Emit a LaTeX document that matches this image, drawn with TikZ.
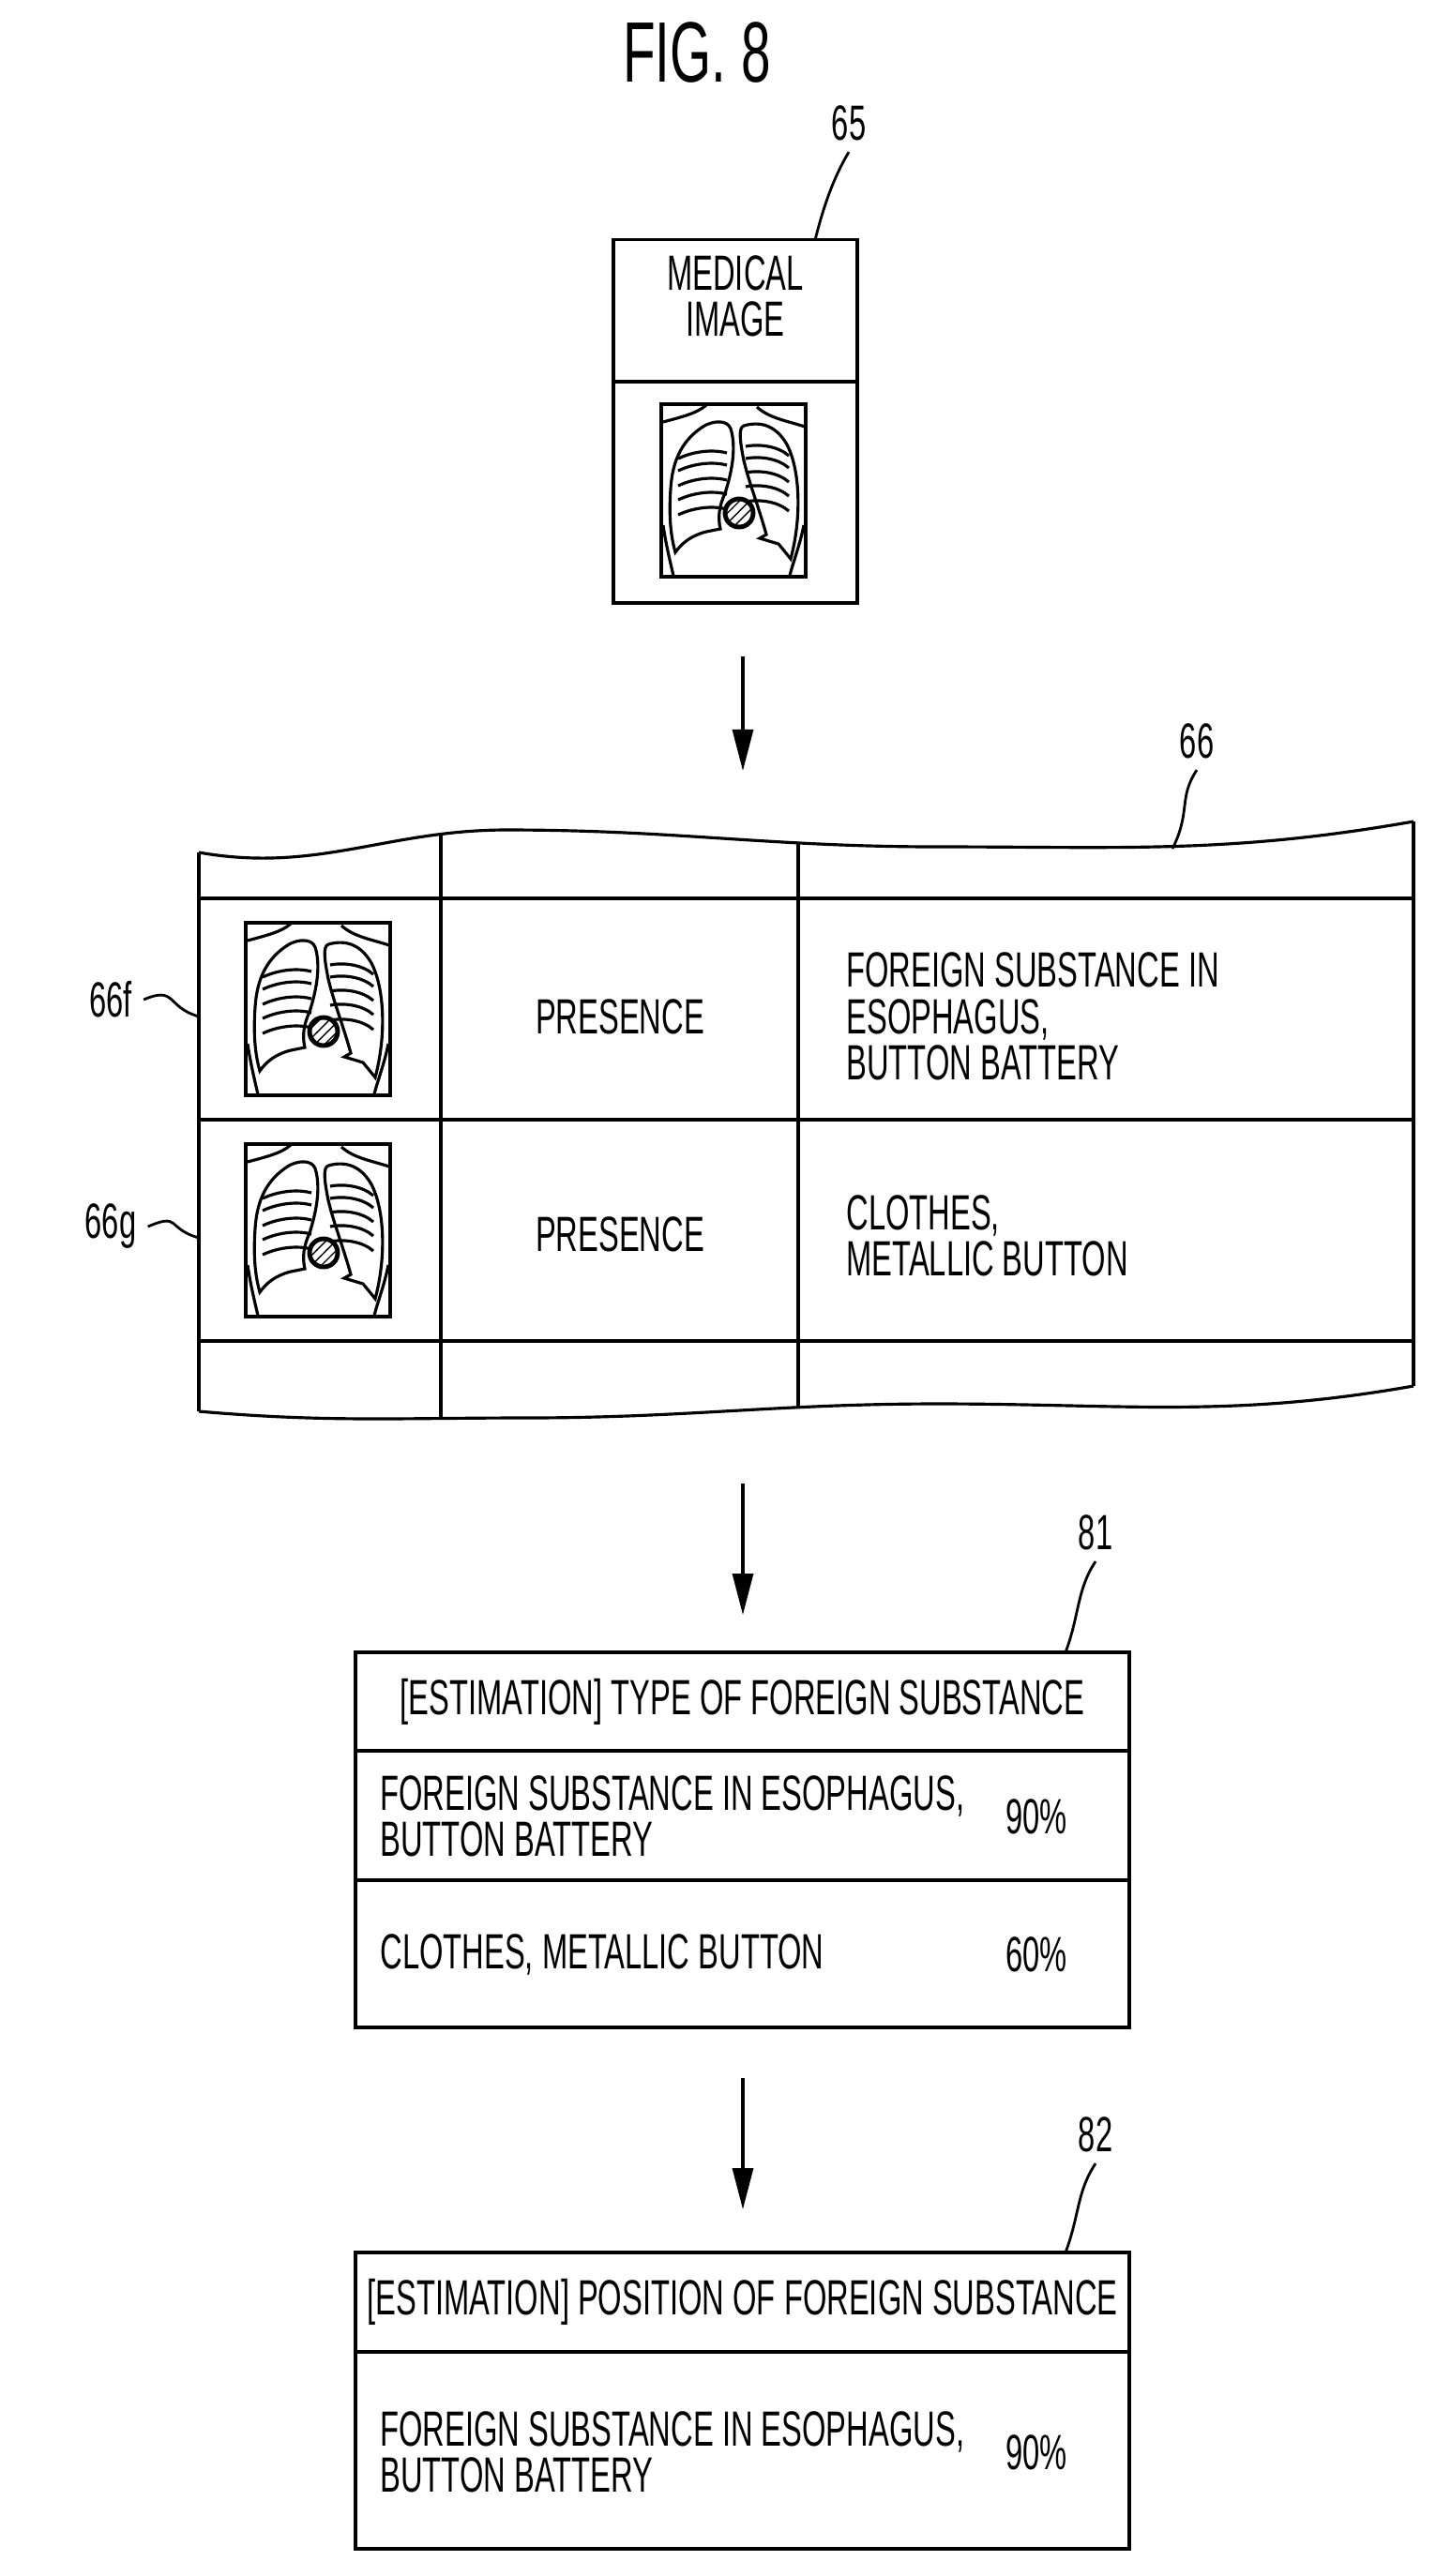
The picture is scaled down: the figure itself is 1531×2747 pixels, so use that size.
\documentclass[tikz,border=0pt]{standalone}
\usepackage{fontspec}
\setmainfont{Liberation Sans}[FakeStretch=0.62]
\usetikzlibrary{arrows.meta,patterns}
\tikzset{
  every node/.style={font=\fontsize{15}{14}\selectfont, align=left},
  box/.style={draw, line width=1.1pt, inner sep=0pt},
  grid/.style={line width=0.9pt},
  flow/.style={-{Triangle[length=4.4mm,width=2.2mm]}, line width=0.9pt},
  lead/.style={line width=0.8pt},
  xray/.pic={
    \draw[line width=1pt] (0,0) rectangle (154,184);
    \begin{scope}[line width=0.9pt]
    % shoulders and sides
    \draw (2,19) .. controls (20,14) and (38,10) .. (48,1);
    \draw (102,3) .. controls (115,15) and (135,18) .. (153,24);
    \draw (2,129) .. controls (5,150) and (10,170) .. (13,183);
    \draw (152,129) .. controls (148,150) and (140,170) .. (137,183);
    % lungs
    \draw (74,26) .. controls (70,16) and (55,18) .. (46,23)
      .. controls (22,38) and (12,60) .. (10,90) .. controls (8,120) and (10,140) .. (15,158)
      .. controls (22,148) and (32,140) .. (48,136) -- (63,133)
      .. controls (60,120) and (62,108) .. (68,95) .. controls (76,70) and (80,45) .. (74,26);
    \draw (88,23) .. controls (82,25) and (84,40) .. (88,60)
      .. controls (94,85) and (104,110) .. (112,139) -- (105,143) -- (125,149)
      .. controls (130,155) and (134,160) .. (138,165)
      .. controls (150,120) and (148,70) .. (134,43)
      .. controls (122,22) and (105,18) .. (88,23);
    % ribs
    \foreach \y in {50,63,79,94,110} {
      \draw (18,\y+8) .. controls (35,\y) and (55,\y-2) .. (70,\y+2);
    }
    \foreach \y in {45,58,73,88,104} {
      \draw (90,\y) .. controls (105,\y-3) and (125,\y) .. (136,\y+10);
    }
    \end{scope}
    % nodule
    \draw[line width=1.4pt, pattern=north east lines] (83,116) circle (15);
  }
}
\begin{document}
\begin{tikzpicture}[x=0.01cm, y=-0.01cm]
\useasboundingbox (0,0) rectangle (1531,2747);
% title
\node[font=\fontsize{26}{26}\selectfont] (fig) at (743,56) {FIG. 8};

% medical image 65
\node[box, minimum width=2.6cm, minimum height=1.51cm, align=center] (medtitle) at (784,331) {};
\node[align=center] (medtext) at (784,316) {MEDICAL\\IMAGE};
\node[box, minimum width=2.6cm, minimum height=2.36cm] (medimg) at (784,525) {};
\pic at (705,431) {xray};
\node (l65) at (905,131) {65};
\coordinate (c65) at (869,256);
\draw[lead] (l65.south) .. controls +(-15,25) and +(10,-40) .. (c65);

% arrow to table
\coordinate (a1s) at (792,700);
\coordinate (a1e) at (792,822);
\draw[flow] (a1s) -- (a1e);

% table 66
\begin{scope}
\clip (212,909) to[out=-10,in=180] (540,885) to[out=0,in=180] (1000,903) to[out=0,in=190] (1507,876)
  -- (1507,1478) to[out=190,in=0] (1000,1497) to[out=180,in=0] (560,1512) to[out=180,in=-5] (212,1505) -- cycle;
\foreach \x in {470,851} {
  \draw[grid] (\x,850) -- (\x,1550);
}
\foreach \y in {958,1194,1430} {
  \draw[grid] (150,\y) -- (1560,\y);
}
\end{scope}
\draw[grid] (212,909) to[out=-10,in=180] (540,885) to[out=0,in=180] (1000,903) to[out=0,in=190] (1507,876);
\draw[grid] (212,1505) to[out=-5,in=180] (560,1512) to[out=0,in=180] (1000,1497) to[out=0,in=190] (1507,1478);
\draw[grid] (212,909) -- (212,1505);
\draw[grid] (1507,876) -- (1507,1478);
\pic at (262,984) {xray};
\pic at (262,1220) {xray};
\node (pres1) at (661,1084) {PRESENCE};
\node (pres2) at (661,1316) {PRESENCE};
\node[anchor=west] (kind1) at (890,1084) {FOREIGN SUBSTANCE IN\\ESOPHAGUS,\\BUTTON BATTERY};
\node[anchor=west] (kind2) at (890,1318) {CLOTHES,\\METALLIC BUTTON};
\node (l66) at (1276,790) {66};
\coordinate (c66) at (1250,905);
\draw[lead] (l66.south) .. controls +(-20,30) and +(20,-40) .. (c66);
\node (l66f) at (118,1066) {66f};
\coordinate (c66f) at (212,1084);
\draw[lead] (l66f.east) .. controls +(35,-15) and +(-35,-10) .. (c66f);
\node (l66g) at (118,1308) {66g};
\coordinate (c66g) at (212,1320);
\draw[lead] (l66g.east) .. controls +(35,-15) and +(-35,-10) .. (c66g);

% arrow to estimation 81
\coordinate (a2s) at (792,1582);
\coordinate (a2e) at (792,1722);
\draw[flow] (a2s) -- (a2e);

% estimation 81
\node[box, minimum width=8.25cm, minimum height=1.05cm, align=center] (typehead) at (791.5,1814.5) {[ESTIMATION] TYPE OF FOREIGN SUBSTANCE};
\node[box, minimum width=8.25cm, minimum height=1.38cm] (typerow1) at (791.5,1936) {};
\node[box, minimum width=8.25cm, minimum height=1.57cm] (typerow2) at (791.5,2083.5) {};
\node[anchor=west] (t1) at (393,1937) {FOREIGN SUBSTANCE IN ESOPHAGUS,\\BUTTON BATTERY};
\node (p1) at (1105,1937) {90\%};
\node[anchor=west] (t2) at (393,2084) {CLOTHES, METALLIC BUTTON};
\node (p2) at (1105,2084) {60\%};
\node (l81) at (1168,1634) {81};
\coordinate (c81) at (1136,1762);
\draw[lead] (l81.south) .. controls +(-20,30) and +(15,-40) .. (c81);

% arrow to estimation 82
\coordinate (a3s) at (792,2216);
\coordinate (a3e) at (792,2356);
\draw[flow] (a3s) -- (a3e);

% estimation 82
\node[box, minimum width=8.25cm, minimum height=1.06cm, align=center] (poshead) at (791.5,2455) {[ESTIMATION] POSITION OF FOREIGN SUBSTANCE};
\node[box, minimum width=8.25cm, minimum height=2.10cm] (posrow1) at (791.5,2613) {};
\node[anchor=west] (t3) at (393,2615) {FOREIGN SUBSTANCE IN ESOPHAGUS,\\BUTTON BATTERY};
\node (p3) at (1105,2615) {90\%};
\node (l82) at (1168,2276) {82};
\coordinate (c82) at (1136,2402);
\draw[lead] (l82.south) .. controls +(-20,30) and +(15,-40) .. (c82);
\end{tikzpicture}
\end{document}
